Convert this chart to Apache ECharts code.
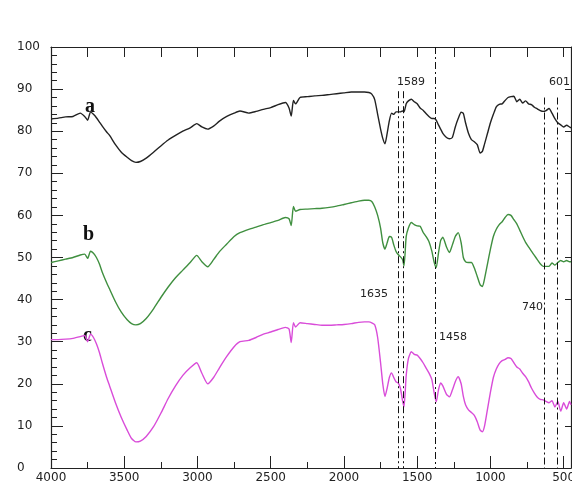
<!DOCTYPE html>
<html>
<head>
<meta charset="utf-8">
<script src="https://cdn.jsdelivr.net/npm/echarts@6/dist/echarts.min.js"></script>
<style>
  html, body { margin: 0; padding: 0; background: #fff; }
  #chart { width: 572px; height: 483px; }
</style>
</head>
<body>
<div id="chart"></div>
<script>
// wave numbers (cm-1), shared by the three spectra
var waveNumbers = [
    4000, 3950, 3900, 3850, 3800, 3770, 3750, 3730, 3710, 3690,
    3670, 3650, 3620, 3600, 3560, 3520, 3480, 3450, 3420, 3390,
    3350, 3300, 3250, 3200, 3150, 3100, 3050, 3005, 2970, 2930,
    2890, 2850, 2800, 2750, 2710, 2650, 2600, 2550, 2500, 2450,
    2400, 2375, 2360, 2345, 2330, 2300, 2250, 2200, 2150, 2100,
    2050, 2000, 1950, 1900, 1860, 1830, 1810, 1790, 1770, 1750,
    1735, 1720, 1705, 1690, 1675, 1660, 1645, 1630, 1615, 1600,
    1590, 1575, 1560, 1540, 1520, 1500, 1480, 1460, 1440, 1420,
    1400, 1385, 1370, 1355, 1340, 1325, 1300, 1280, 1260, 1240,
    1220, 1200, 1185, 1170, 1150, 1130, 1110, 1090, 1070, 1055,
    1040, 1020, 1000, 980, 960, 940, 920, 900, 880, 860,
    840, 820, 800, 780, 760, 740, 720, 700, 680, 660,
    640, 620, 600, 580, 560, 540, 520, 500, 480, 460,
    450
];

var seriesA = [
    82.9, 83.1, 83.4, 83.5, 84.3, 83.5, 82.6, 84.6, 84.0, 83.2,
    82.2, 81.2, 79.8, 79.0, 76.8, 75.0, 73.8, 73.0, 72.6, 72.8,
    73.6, 75.0, 76.5, 77.9, 79.0, 80.0, 80.8, 81.8, 81.0, 80.5,
    81.2, 82.4, 83.5, 84.3, 84.8, 84.3, 84.7, 85.2, 85.6, 86.3,
    86.8, 85.5, 83.6, 87.3, 86.5, 88.0, 88.2, 88.4, 88.5, 88.7,
    88.9, 89.1, 89.3, 89.3, 89.3, 89.2, 88.8, 87.5, 84.0, 80.5,
    78.3, 77.0, 79.5, 82.5, 84.3, 84.0, 84.6, 84.6, 84.6, 84.8,
    84.6, 86.5, 87.2, 87.6, 87.0, 86.5, 85.5, 85.0, 84.2, 83.5,
    83.0, 83.0, 82.6, 81.5, 80.5, 79.5, 78.5, 78.2, 78.5, 81.0,
    83.0, 84.5, 84.2, 82.0, 79.5, 78.0, 77.5, 76.8, 74.8, 75.2,
    77.0, 79.5, 82.0, 84.0, 85.8, 86.4, 86.5, 87.3, 88.0, 88.2,
    88.3, 87.0, 87.6, 86.7, 87.2, 86.5, 86.3, 85.7, 85.3, 84.9,
    84.7, 84.9, 85.4, 84.3, 83.0, 82.0, 81.5, 81.0, 81.4, 81.0,
    80.8
];

var seriesB = [
    48.8, 49.2, 49.6, 50.0, 50.6, 50.8, 49.8, 51.5, 51.0, 50.0,
    48.5, 46.5, 44.0, 42.5, 39.5, 37.0, 35.2, 34.3, 34.0, 34.3,
    35.5, 37.8, 40.5, 43.0, 45.2, 47.0, 48.8, 50.5, 49.0, 47.8,
    49.5, 51.4, 53.2, 55.0, 55.9, 56.7, 57.2, 57.8, 58.3, 58.8,
    59.5, 59.2, 57.6, 62.1, 61.0, 61.4, 61.5, 61.6, 61.7, 61.9,
    62.2, 62.6, 63.0, 63.4, 63.6, 63.6, 63.3, 62.0, 60.0, 57.0,
    53.5, 52.0, 53.5, 55.0, 54.8, 53.0, 51.5, 50.7, 50.2, 49.5,
    48.0, 55.0, 57.0, 58.3, 57.8, 57.5, 57.4, 56.0, 55.0, 53.8,
    51.5, 49.0, 47.6, 51.0, 54.0, 54.8, 52.5, 51.2, 53.0, 55.0,
    55.9, 53.5, 50.0, 49.0, 48.8, 48.8, 47.5, 45.5, 43.5, 43.1,
    45.0, 48.5, 52.0, 55.0, 56.7, 57.8, 58.5, 59.5, 60.2, 60.0,
    59.0, 58.0, 56.5, 55.0, 53.6, 52.5, 51.5, 50.5, 49.5, 48.5,
    47.9, 47.9, 47.9, 48.7, 48.2, 48.8, 49.3, 49.0, 49.3, 49.0,
    49.0
];

var seriesC = [
    30.5, 30.5, 30.6, 30.8, 31.2, 31.5, 30.0, 31.8, 31.0, 29.5,
    27.5, 25.0, 21.5, 19.5, 15.5, 12.0, 9.0, 7.0, 6.2, 6.4,
    7.5, 9.8, 13.0, 16.5, 19.5, 22.0, 23.8, 25.0, 22.5, 20.0,
    21.5, 23.8, 26.5, 28.8, 30.0, 30.3, 31.0, 31.8, 32.3, 32.9,
    33.4, 33.0, 29.8, 34.5, 33.5, 34.5, 34.3, 34.1, 33.9, 33.9,
    34.0, 34.1, 34.3, 34.6, 34.7, 34.7, 34.5, 34.0, 31.0, 25.0,
    20.0, 17.0, 19.0, 21.5, 22.6, 21.5, 20.5, 20.2, 19.0, 16.0,
    14.5, 22.0, 26.0, 27.6, 27.0, 26.8, 26.0, 25.0, 23.8, 22.6,
    21.0, 18.0, 15.7, 18.5, 20.2, 19.5, 17.5, 16.9, 18.5, 20.5,
    21.7, 20.0, 17.0, 15.0, 13.8, 13.2, 12.5, 11.0, 9.0, 8.6,
    10.0, 14.0, 18.0, 21.5, 23.5, 24.8, 25.5, 25.8, 26.2, 26.0,
    25.0, 24.0, 23.5, 22.5, 21.7, 20.5, 19.0, 17.8, 16.8, 16.3,
    16.2, 15.8, 15.5, 16.0, 14.5, 15.8, 13.5, 15.5, 14.0, 15.8,
    15.0
];

// x tick labels and minor tick positions
var xMajorTicks = [4000, 3500, 3000, 2500, 2000, 1500, 1000, 500];
var xMinorTicks = [3750, 3250, 2750, 2250, 1750, 1250, 750];

// dash-dot marker lines: where they are drawn, their text, how high they reach
var peakPositions = [1627, 1593, 1375, 632, 543];
var peakLabels = ['1635', '1589', '1458', '740', '601'];
var peakTops = [89.5, 89.5, 100, 88, 88];

window.addEventListener('load', function () {
    var myChart = echarts.init(document.getElementById('chart'));

    function pairs(vals) {
        return waveNumbers.map(function (w, i) { return [w, vals[i]]; });
    }

    var marks = peakPositions.map(function (p, i) {
        return [{ coord: [p, peakTops[i]] }, { coord: [p, 0] }];
    });

    var axisCommon = {
        type: 'value',
        inverse: true,
        min: 450,
        max: 4000,
        splitLine: { show: false }
    };

    var option = {
        animation: false,
        backgroundColor: '#fff',
        grid: {
            left: 51,
            right: 1,
            top: 47,
            bottom: 15,
            containLabel: false,
            outerBoundsMode: 'none'
        },
        xAxis: [
            Object.assign({}, axisCommon, {
                position: 'bottom',
                axisLine: { lineStyle: { color: '#222', width: 1.2 } },
                axisTick: { inside: true, length: 12, customValues: xMajorTicks, lineStyle: { color: '#222' } },
                axisLabel: {
                    customValues: xMajorTicks,
                    formatter: function (v) { return String(v); },
                    color: '#222',
                    fontSize: 12,
                    fontFamily: 'DejaVu Sans',
                    margin: 4,
                    hideOverlap: false
                }
            }),
            Object.assign({}, axisCommon, {
                position: 'bottom',
                axisLine: { show: false },
                axisTick: { inside: true, length: 6, customValues: xMinorTicks, lineStyle: { color: '#222' } },
                axisLabel: { show: false }
            }),
            Object.assign({}, axisCommon, {
                position: 'top',
                axisLine: { lineStyle: { color: '#222', width: 1.2 } },
                axisTick: { inside: true, length: 10, customValues: xMajorTicks.concat(xMinorTicks), lineStyle: { color: '#222' } },
                axisLabel: { show: false }
            })
        ],
        yAxis: [
            {
                type: 'value',
                position: 'left',
                min: 0,
                max: 100,
                interval: 10,
                axisLine: { show: true, lineStyle: { color: '#222', width: 1.2 } },
                axisTick: { inside: true, length: 12, lineStyle: { color: '#222' } },
                minorTick: { show: true, splitNumber: 5, length: 6, lineStyle: { color: '#222' } },
                splitLine: { show: false },
                axisLabel: {
                    color: '#222',
                    fontSize: 12,
                    fontFamily: 'DejaVu Sans',
                    align: 'left',
                    margin: 34
                }
            },
            {
                type: 'value',
                position: 'right',
                min: 0,
                max: 100,
                interval: 10,
                axisLine: { show: true, lineStyle: { color: '#222', width: 1.2 } },
                axisTick: { inside: true, length: 6, lineStyle: { color: '#222' } },
                splitLine: { show: false },
                axisLabel: { show: false }
            }
        ],
        series: [
            {
                name: 'a',
                type: 'line',
                data: pairs(seriesA),
                showSymbol: false,
                smooth: 0.2,
                lineStyle: { color: '#222', width: 1.4 },
                markLine: {
                    silent: true,
                    symbol: ['none', 'none'],
                    label: { show: false },
                    lineStyle: { color: '#111', width: 1, type: [7, 3, 2, 3] },
                    data: marks
                }
            },
            {
                name: 'b',
                type: 'line',
                data: pairs(seriesB),
                showSymbol: false,
                smooth: 0.2,
                lineStyle: { color: '#3f8f3f', width: 1.4 }
            },
            {
                name: 'c',
                type: 'line',
                data: pairs(seriesC),
                showSymbol: false,
                smooth: 0.2,
                lineStyle: { color: '#d94cd9', width: 1.4 }
            }
        ],
        graphic: [
            { type: 'text', left: 85, top: 97, style: { text: 'a', font: 'bold 20px "Liberation Serif"', fill: '#111' } },
            { type: 'text', left: 83, top: 225, style: { text: 'b', font: 'bold 20px "Liberation Serif"', fill: '#111' } },
            { type: 'text', left: 83, top: 326, style: { text: 'c', font: 'bold 20px "Liberation Serif"', fill: '#111' } },
            { type: 'text', left: 397, top: 77, style: { text: peakLabels[1], font: '11px "DejaVu Sans"', fill: '#222' } },
            { type: 'text', left: 360, top: 289, style: { text: peakLabels[0], font: '11px "DejaVu Sans"', fill: '#222' } },
            { type: 'text', left: 439, top: 332, style: { text: peakLabels[2], font: '11px "DejaVu Sans"', fill: '#222' } },
            { type: 'text', left: 522, top: 302, style: { text: peakLabels[3], font: '11px "DejaVu Sans"', fill: '#222' } },
            { type: 'text', left: 549, top: 77, style: { text: peakLabels[4], font: '11px "DejaVu Sans"', fill: '#222' } }
        ]
    };

    myChart.setOption(option);
});
</script>
</body>
</html>
